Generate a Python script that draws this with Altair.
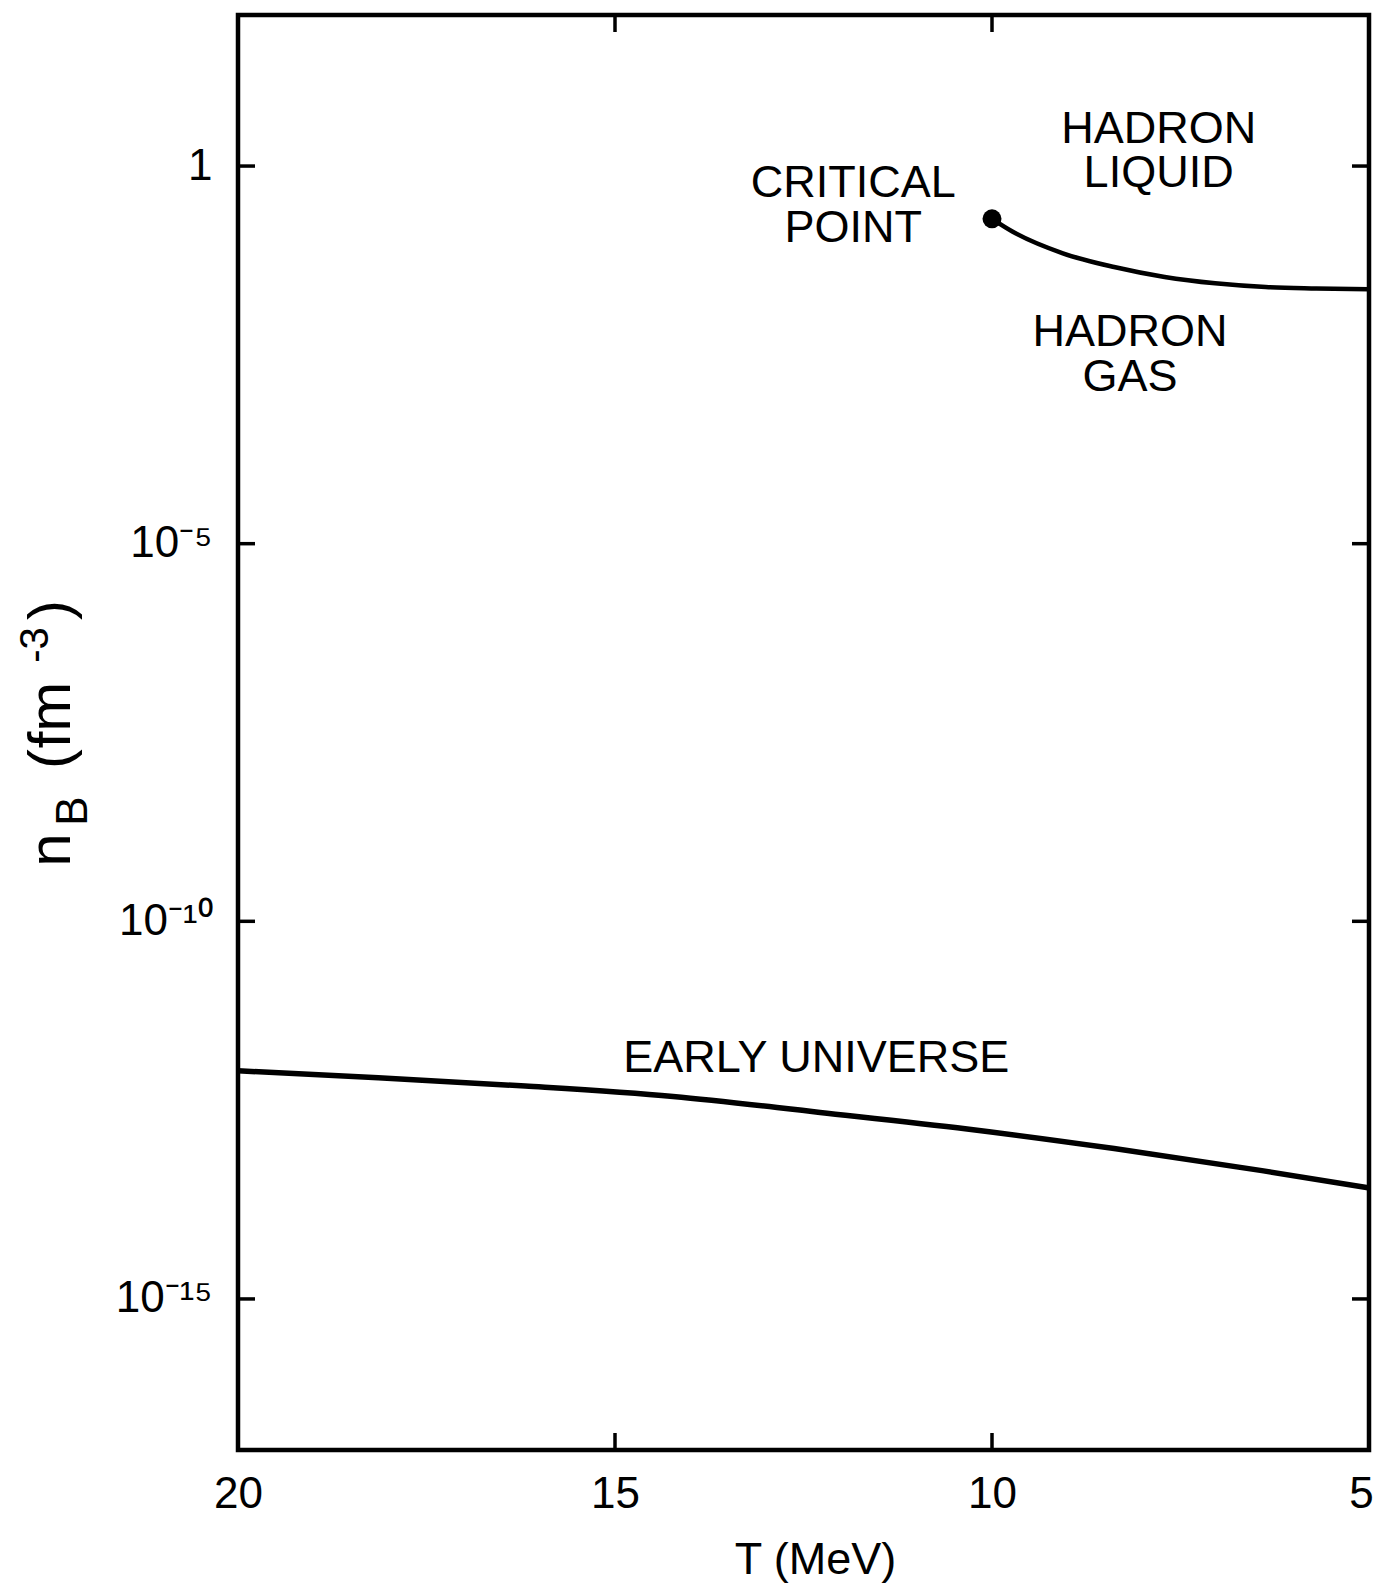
import math

import altair as alt
import pandas as pd

# ---- data -------------------------------------------------------------
# Temperature axis (MeV), decreasing from left to right
t_ticks = [20, 15, 10, 5]
t_inner_ticks = [15, 10]

# Baryon density axis (fm^-3), logarithmic
n_ticks = [1, 1e-5, 1e-10, 1e-15]
n_tick_labels = ["1", "10⁻⁵", "10⁻¹⁰", "10⁻¹⁵"]

# Liquid–gas coexistence line, ending at the critical point
lg_T = [10.0, 9.73, 9.06, 8.38, 7.71, 7.04, 6.37, 5.70, 5.0]
lg_n = [0.20, 0.136, 0.070, 0.046, 0.034, 0.028, 0.025, 0.024, 0.0234]

critical_T = [10.0]
critical_n = [0.20]

# Early-universe trajectory
eu_T = [20.0, 18.14, 16.19, 14.23, 12.28, 10.33, 8.38, 6.42, 5.0]
eu_n = [1.05e-12, 8.5e-13, 6.6e-13, 4.8e-13, 2.95e-13, 1.78e-13,
        9.8e-14, 5.0e-14, 2.95e-14]

# Region annotations (two-line labels are anchored at their first line)
label_text = ["CRITICAL\nPOINT", "HADRON\nLIQUID", "HADRON\nGAS",
              "EARLY UNIVERSE"]
label_T = [11.84, 7.79, 8.17, 12.33]
label_n = [0.59, 3.1, 6.3e-3, 1.55e-12]

# ---- layout -----------------------------------------------------------
W, H = 1131, 1435
TICK = 17
FONT = "Liberation Sans"

lg_df = pd.DataFrame({"T": lg_T, "n": lg_n})
cp_df = pd.DataFrame({"T": critical_T, "n": critical_n})
eu_df = pd.DataFrame({"T": eu_T, "n": eu_n})
lab_df = pd.DataFrame({"T": label_T, "n": label_n, "label": label_text})
xt_df = pd.DataFrame({"T": t_inner_ticks})
yt_df = pd.DataFrame({"n": n_ticks})
one = pd.DataFrame({"k": [0]})

# y tick labels as powers of ten
label_expr = "''"
for v, lab in reversed(list(zip(n_ticks, n_tick_labels))):
    e = int(round(math.log10(v)))
    label_expr = f"round(log(datum.value)/LN10) == {e} ? '{lab}' : ({label_expr})"

x_scale = alt.Scale(domain=[5, 20], reverse=True, nice=False, zero=False)
y_scale = alt.Scale(type="log", domain=[1e-17, 1e2], nice=False)

x_axis = alt.Axis(
    values=t_ticks, format="d", domain=False, ticks=False, grid=False,
    labelFont=FONT, labelFontSize=44, labelColor="black", labelPadding=22,
    labelFlush=False, labelOverlap=False,
    # pull the right-most label ("5") in from the edge of the frame
    labelOffset={"condition": {"test": "datum.value == 5", "value": -8},
                 "value": 0},
    title="T (MeV)", titleFont=FONT, titleFontSize=45, titleFontWeight="normal",
    titleColor="black", titleX=577, titleY=123, titleBaseline="alphabetic",
    titleAlign="center",
)
y_axis = alt.Axis(
    values=n_ticks, labelExpr=label_expr, domain=False, ticks=False, grid=False,
    labelFont=FONT, labelFontSize=44, labelColor="black", labelPadding=26,
    labelBaseline="middle", labelFlush=False, labelOverlap=False, title="",
)

x_enc = alt.X("T:Q", scale=x_scale, axis=x_axis)
y_enc = alt.Y("n:Q", scale=y_scale, axis=y_axis)

# ---- marks ------------------------------------------------------------
early = alt.Chart(eu_df).mark_line(
    color="black", strokeWidth=5.5, interpolate="monotone"
).encode(x=x_enc, y=y_enc)

coexist = alt.Chart(lg_df).mark_line(
    color="black", strokeWidth=4.5, interpolate="monotone"
).encode(x=x_enc, y=y_enc)

crit = alt.Chart(cp_df).mark_circle(
    color="black", size=360, opacity=1
).encode(x=x_enc, y=y_enc)

labels = alt.Chart(lab_df).mark_text(
    font=FONT, fontSize=45, color="black", align="center", baseline="middle",
    lineBreak="\n", lineHeight=44.5,
).encode(x=x_enc, y=y_enc, text="label:N")

# inward ticks on all four sides
tick_style = dict(color="black", strokeWidth=3.5)
x_ticks_bottom = alt.Chart(xt_df).mark_rule(**tick_style).encode(
    x=x_enc, y=alt.value(H), y2=alt.value(H - TICK))
x_ticks_top = alt.Chart(xt_df).mark_rule(**tick_style).encode(
    x=x_enc, y=alt.value(0), y2=alt.value(TICK))
y_ticks_left = alt.Chart(yt_df).mark_rule(**tick_style).encode(
    y=y_enc, x=alt.value(0), x2=alt.value(TICK))
y_ticks_right = alt.Chart(yt_df).mark_rule(**tick_style).encode(
    y=y_enc, x=alt.value(W), x2=alt.value(W - TICK))

# rotated y-axis title: n_B (fm^-3), built from pieces
def title_piece(text, size, bx, cy):
    return alt.Chart(one).mark_text(
        text=text, font=FONT, fontSize=size, color="black", angle=270,
        align="center", baseline="alphabetic",
    ).encode(x=alt.value(bx), y=alt.value(cy))

y_title = [
    title_piece("n", 60, -168, 835),
    title_piece("B", 44, -151, 796),
    title_piece("(", 60, -168, 744),
    title_piece("fm", 60, -168, 700),
    title_piece("-3", 40, -190, 630),
    title_piece(")", 60, -168, 595),
]

chart = alt.layer(
    early, coexist, crit, labels,
    x_ticks_bottom, x_ticks_top, y_ticks_left, y_ticks_right,
    *y_title,
).properties(
    width=W, height=H,
    autosize=alt.AutoSizeParams(type="none"),
    padding={"left": 238, "top": 15, "right": 8, "bottom": 137},
    background="white",
).configure_view(stroke="black", strokeWidth=4.5)

chart.save("out.html", embed_options={"renderer": "svg", "actions": False})
